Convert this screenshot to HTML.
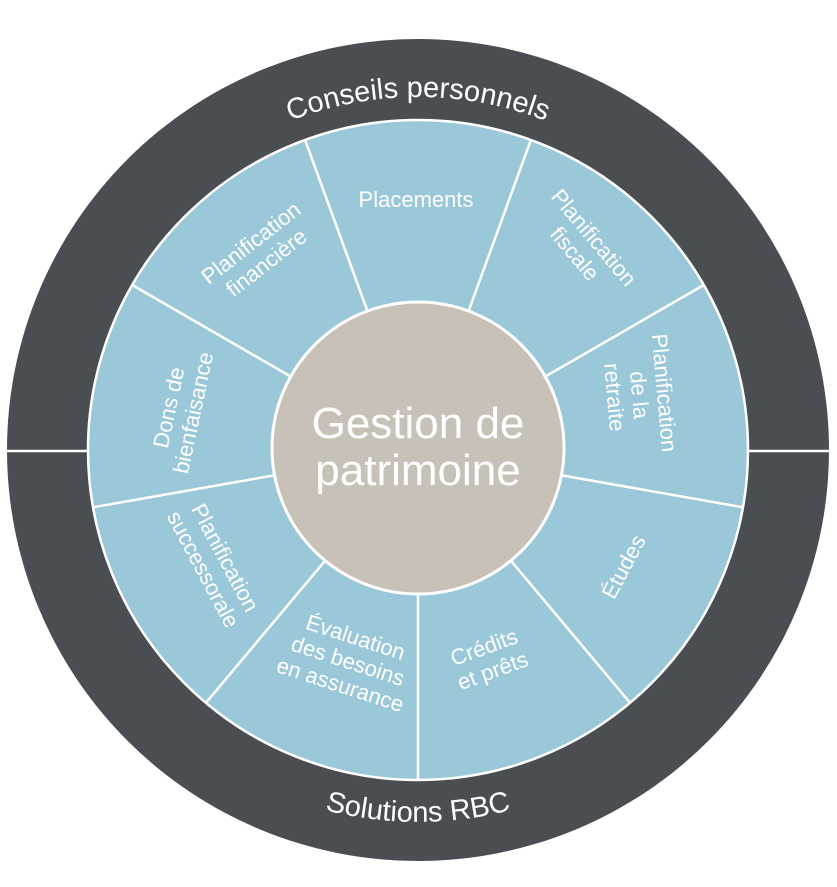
<!DOCTYPE html>
<html><head><meta charset="utf-8"><style>
html,body{margin:0;padding:0;background:#fff;width:837px;height:887px;overflow:hidden}
svg{display:block}
text{font-family:"Liberation Sans",sans-serif;fill:#fff}
</style></head><body>
<svg width="837" height="887" viewBox="0 0 837 887">
<defs>
<path id="top" d="M 65 450 A 353 353 0 0 1 771 450"/>
<path id="bot" d="M 46 450 A 372 372 0 0 0 790 450"/>
</defs>
<circle cx="418" cy="450" r="411" fill="#4a4d52"/>
<line x1="0" y1="451" x2="837" y2="451" stroke="#fff" stroke-width="2.5"/>
<g transform="translate(418,450)">
<circle cx="0" cy="0" r="330" fill="#9ac8d8" stroke="#fff" stroke-width="2.5"/>
<g stroke="#fff" stroke-width="2.5">
<line x1="0" y1="0" x2="-112.9" y2="-310.1"/>
<line x1="0" y1="0" x2="112.9" y2="-310.1"/>
<line x1="0" y1="0" x2="285.8" y2="-165"/>
<line x1="0" y1="0" x2="325" y2="57.3"/>
<line x1="0" y1="0" x2="212.1" y2="252.8"/>
<line x1="0" y1="0" x2="0" y2="330"/>
<line x1="0" y1="0" x2="-212.1" y2="252.8"/>
<line x1="0" y1="0" x2="-325" y2="57.3"/>
<line x1="0" y1="0" x2="-285.8" y2="-165"/>
</g>
<circle cx="0" cy="-2" r="146" fill="#c8c1b8" stroke="#fff" stroke-width="3"/>
</g>
<text x="418" y="438" font-size="44" text-anchor="middle">Gestion de</text>
<text x="418" y="485" font-size="44" text-anchor="middle">patrimoine</text>
<g font-size="22" text-anchor="middle">
<text transform="translate(416,207)">Placements</text>
<text transform="translate(585,245) rotate(50)"><tspan x="0" y="-4">Planification</tspan><tspan x="0" y="21">fiscale</tspan></text>
<text transform="translate(640,395) rotate(85)"><tspan x="0" y="-17">Planification</tspan><tspan x="0" y="8">de la</tspan><tspan x="0" y="33">retraite</tspan></text>
<text transform="translate(624,567) rotate(-62)"><tspan x="0" y="7">Études</tspan></text>
<text transform="translate(488,658) rotate(-20)"><tspan x="0" y="-4">Crédits</tspan><tspan x="0" y="21">et prêts</tspan></text>
<text transform="translate(345,670) rotate(18)"><tspan x="0" y="-27">Évaluation</tspan><tspan x="0" y="-2">des besoins</tspan><tspan x="0" y="23">en assurance</tspan></text>
<text transform="translate(215,563) rotate(62)"><tspan x="0" y="-4">Planification</tspan><tspan x="0" y="21">successorale</tspan></text>
<text transform="translate(180,410) rotate(-78)"><tspan x="0" y="-4">Dons de</tspan><tspan x="0" y="21">bienfaisance</tspan></text>
<text transform="translate(258,252) rotate(-38)"><tspan x="0" y="-4">Planification</tspan><tspan x="0" y="21">financière</tspan></text>
</g>
<text font-size="29" text-anchor="middle"><textPath href="#top" startOffset="50%">Conseils personnels</textPath></text>
<text font-size="29" text-anchor="middle"><textPath href="#bot" startOffset="50%">Solutions RBC</textPath></text>
</svg>
</body></html>
